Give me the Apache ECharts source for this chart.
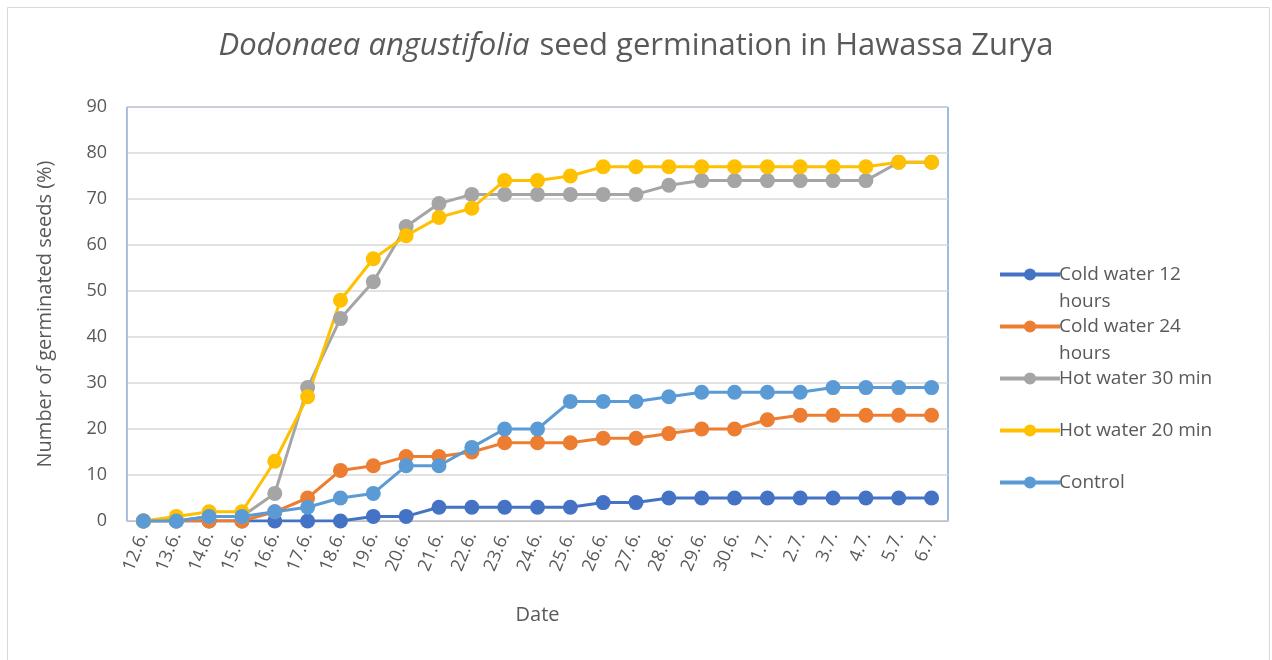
<!DOCTYPE html>
<html>
<head>
<meta charset="utf-8">
<script src="https://cdn.jsdelivr.net/npm/echarts@6/dist/echarts.min.js"></script>
<style>
  html, body { margin: 0; padding: 0; background: #fff; }
  #myChart { width: 1272px; height: 660px; }
</style>
</head>
<body>
<div id="myChart"></div>
<script>
// dates on the x axis
var dates = ['12.6.', '13.6.', '14.6.', '15.6.', '16.6.', '17.6.', '18.6.', '19.6.', '20.6.',
  '21.6.', '22.6.', '23.6.', '24.6.', '25.6.', '26.6.', '27.6.', '28.6.', '29.6.', '30.6.',
  '1.7.', '2.7.', '3.7.', '4.7.', '5.7.', '6.7.']

// germinated seeds (%) per treatment
var cold12 = [0, 0, 0, 0, 0, 0, 0, 1, 1, 3, 3, 3, 3, 3, 4, 4, 5, 5, 5, 5, 5, 5, 5, 5, 5]
var cold24 = [0, 0, 0, 0, 2, 5, 11, 12, 14, 14, 15, 17, 17, 17, 18, 18, 19, 20, 20, 22, 23, 23, 23, 23, 23]
var hot30 = [0, 0, 1, 1, 6, 29, 44, 52, 64, 69, 71, 71, 71, 71, 71, 71, 73, 74, 74, 74, 74, 74, 74, 78, 78]
var hot20 = [0, 1, 2, 2, 13, 27, 48, 57, 62, 66, 68, 74, 74, 75, 77, 77, 77, 77, 77, 77, 77, 77, 77, 78, 78]
var control = [0, 0, 1, 1, 2, 3, 5, 6, 12, 12, 16, 20, 20, 26, 26, 26, 27, 28, 28, 28, 28, 29, 29, 29, 29]

var seriesNames = ['Cold water 12 hours', 'Cold water 24 hours', 'Hot water 30 min', 'Hot water 20 min', 'Control']
var seriesData = [cold12, cold24, hot30, hot20, control]
var colors = ['#4472C4', '#ED7D31', '#A5A5A5', '#FFC000', '#5B9BD5']

var font = '"Open Sans", "Noto Sans", sans-serif'
var textColor = '#595959'

var myChart = echarts.init(document.getElementById('myChart'))

var option = {
  animation: false,
  backgroundColor: '#fff',
  textStyle: { fontFamily: font, color: textColor },
  title: {
    text: '{i|Dodonaea angustifolia}{n|seed germination in Hawassa Zurya}',
    left: 'center',
    top: 26,
    textStyle: {
      fontWeight: 'normal',
      fontSize: 31,
      rich: {
        i: { fontStyle: 'italic', fontWeight: 'normal', fontSize: 31, color: textColor, fontFamily: font },
        n: { fontWeight: 'normal', fontSize: 31, color: textColor, fontFamily: font, padding: [0, 0, 0, 10] }
      }
    }
  },
  grid: {
    left: 127, right: 324, top: 107, bottom: 139,
    show: true,
    borderColor: '#4472C4',
    borderWidth: 1
  },
  legend: {
    orient: 'vertical',
    left: 993,
    top: 229,
    itemWidth: 60,
    itemHeight: 15,
    itemGap: -29,
    data: seriesNames,
    lineStyle: { width: 4 },
    formatter: function (name) {
      if (name === 'Cold water 12 hours') return '\nCold water 12\nhours'
      if (name === 'Cold water 24 hours') return '\nCold water 24\nhours'
      return '\n' + name + '\n'
    },
    textStyle: { fontSize: 19, lineHeight: 27, color: textColor, fontFamily: font, padding: [0, 0, 0, -6] }
  },
  xAxis: {
    type: 'category',
    data: dates,
    boundaryGap: true,
    name: 'Date',
    nameLocation: 'middle',
    nameGap: 84,
    nameTextStyle: { fontSize: 20, color: textColor },
    axisLine: { lineStyle: { color: '#bfbfbf', width: 1 } },
    axisTick: { show: false },
    axisLabel: { rotate: 68, fontSize: 18, color: textColor, interval: 0, margin: 12 }
  },
  yAxis: {
    type: 'value',
    min: 0,
    max: 90,
    interval: 10,
    name: 'Number of germinated seeds (%)',
    nameLocation: 'middle',
    nameGap: 72,
    nameTextStyle: { fontSize: 20, color: textColor },
    axisLine: { show: true, lineStyle: { color: '#b4c1d8', width: 1 } },
    axisTick: { show: false },
    axisLabel: { fontSize: 18, color: textColor, margin: 20 },
    splitLine: { lineStyle: { color: '#d9d9d9', width: 1.5 } }
  },
  graphic: [{
    type: 'rect',
    shape: { x: 7.5, y: 7.5, width: 1262, height: 660 },
    style: { fill: 'none', stroke: '#d9d9d9', lineWidth: 1 },
    silent: true
  }],
  series: seriesData.map(function (d, i) {
    return {
      name: seriesNames[i],
      type: 'line',
      data: d,
      color: colors[i],
      symbol: 'circle',
      symbolSize: 15,
      lineStyle: { width: 3 },
      itemStyle: { color: colors[i] }
    }
  })
}

myChart.setOption(option)
</script>
</body>
</html>
